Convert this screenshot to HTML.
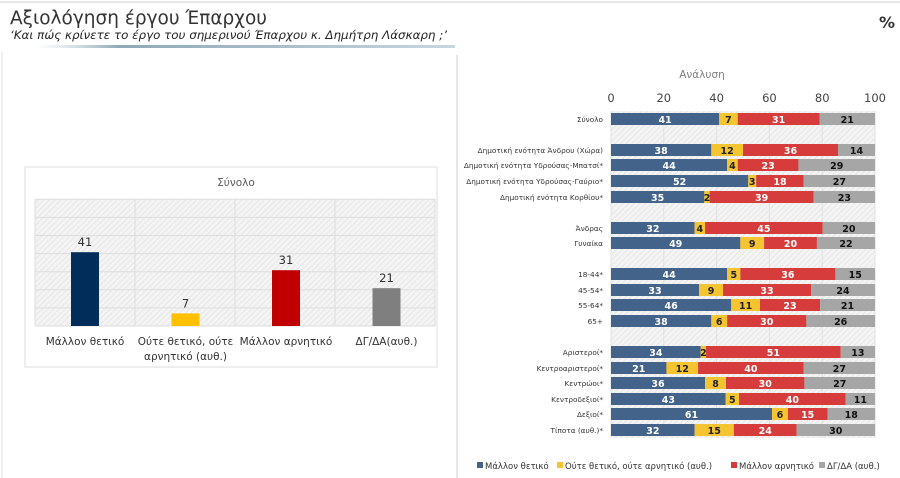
<!DOCTYPE html>
<html><head><meta charset="utf-8"><style>
body{margin:0;background:#fff;}
svg{display:block;font-family:"DejaVu Sans","Liberation Sans",sans-serif;}
</style></head><body>
<svg id="s" width="900" height="478" xmlns="http://www.w3.org/2000/svg">
<defs>
<pattern id="h" width="4" height="4" patternUnits="userSpaceOnUse" patternTransform="rotate(45)">
<rect width="4" height="4" fill="#f4f4f4"/><line x1="0" y1="0" x2="0" y2="4" stroke="#e2e2e2" stroke-width="1.5"/></pattern>
<linearGradient id="ln" x1="0" x2="1"><stop offset="0" stop-color="#b8ccd6" stop-opacity="0"/><stop offset="0.2" stop-color="#8fa9b8"/><stop offset="1" stop-color="#c8d6de"/></linearGradient>
</defs>
<rect x="0" y="0" width="900" height="478" fill="#fff"/>
<line x1="0" y1="2" x2="900" y2="2" stroke="#e6e6e6" stroke-width="2"/>
<text x="10" y="24" font-size="18.5" fill="#333">Αξιολόγηση έργου Έπαρχου</text>
<text x="10" y="39" font-size="11.5" font-style="italic" fill="#222" textLength="437" lengthAdjust="spacingAndGlyphs">‘Και πώς κρίνετε το έργο του σημερινού Έπαρχου κ. Δημήτρη Λάσκαρη ;’</text>
<text x="879" y="28" font-size="16" font-weight="bold" fill="#333">%</text>
<rect x="35" y="45" width="420" height="3" fill="url(#ln)"/>
<line x1="2" y1="52" x2="2" y2="478" stroke="#ddd"/>
<line x1="457" y1="55" x2="457" y2="478" stroke="#ccc"/>
<g id="L"></g>
<g id="R"></g>
</svg>
<script>
var NS="http://www.w3.org/2000/svg";
function el(p,t,a,txt){var e=document.createElementNS(NS,t);for(var k in a)e.setAttribute(k,a[k]);if(txt!==undefined)e.textContent=txt;p.appendChild(e);return e;}
var L=document.getElementById('L');
el(L,'rect',{x:25,y:167,width:412,height:200,fill:'#fff',stroke:'#ddd'});
el(L,'text',{x:236,y:186,'font-size':10.5,fill:'#595959','text-anchor':'middle'},'Σύνολο');
el(L,'rect',{x:35,y:199,width:400,height:127,fill:'url(#h)'});
for(var i=0;i<=7;i++){var y=326-i*18.1;el(L,'line',{x1:35,x2:435,y1:y,y2:y,stroke:'#ddd'});}
for(var i=0;i<=4;i++){var x=35+i*100;el(L,'line',{x1:x,x2:x,y1:199,y2:326,stroke:'#ddd'});}
var lv=[41,7,31,21],lc=['#002d5a','#ffc000','#c00000','#7f7f7f'];
for(var i=0;i<4;i++){var h=lv[i]*1.8,x=71+i*100.5;el(L,'rect',{x:x,y:326-h,width:28,height:h,fill:lc[i]});
el(L,'text',{x:x+14,y:326-h-6,'font-size':11.5,fill:'#333','text-anchor':'middle'},lv[i]);}
var lab=[['Μάλλον θετικό'],['Ούτε θετικό, ούτε','αρνητικό (αυθ.)'],['Μάλλον αρνητικό'],['ΔΓ/ΔΑ(αυθ.)']];
for(var i=0;i<4;i++)for(var j=0;j<lab[i].length;j++)el(L,'text',{x:85+i*100.5,y:345+j*15,'font-size':10.5,fill:'#333','text-anchor':'middle'},lab[i][j]);
var R=document.getElementById('R');
el(R,'text',{x:702,y:78,'font-size':10.5,fill:'#7f7f7f','text-anchor':'middle'},'Ανάλυση');
var x0=611,W=264;
el(R,'rect',{x:x0,y:111,width:W,height:327,fill:'url(#h)'});
for(var i=0;i<=5;i++){var x=x0+i*W/5;el(R,'line',{x1:x,x2:x,y1:111,y2:438,stroke:'#e0e0e0'});
el(R,'text',{x:x,y:102,'font-size':11.5,fill:'#444','text-anchor':'middle'},i*20);}
var rows=[['Σύνολο',119,[41,7,31,21]],
['Δημοτική ενότητα Άνδρου (Χώρα)',150,[38,12,36,14]],
['Δημοτική ενότητα Υδρούσας-Μπατσί*',165,[44,4,23,29]],
['Δημοτική ενότητα Υδρούσας-Γαύριο*',181,[52,3,18,27]],
['Δημοτική ενότητα Κορθίου*',197,[35,2,39,23]],
['Άνδρας',228,[32,4,45,20]],
['Γυναίκα',243,[49,9,20,22]],
['18-44*',274,[44,5,36,15]],
['45-54*',290,[33,9,33,24]],
['55-64*',305,[46,11,23,21]],
['65+',321,[38,6,30,26]],
['Αριστεροί*',352,[34,2,51,13]],
['Κεντροαριστεροί*',368,[21,12,40,27]],
['Κεντρώοι*',383,[36,8,30,27]],
['Κεντροδεξιοί*',399,[43,5,40,11]],
['Δεξιοί*',414,[61,6,15,18]],
['Τίποτα (αυθ.)*',430,[32,15,24,30]]];
var rc=['#44638a','#f5c431','#d63c3c','#a6a6a6'],tc=['#fff','#222','#fff','#111'];
rows.forEach(function(r){var y=r[1],v=r[2],s=v[0]+v[1]+v[2]+v[3],x=x0;
el(R,'text',{x:603,y:y+3,'font-size':7.3,fill:'#333','text-anchor':'end'},r[0]);
for(var k=0;k<4;k++){var w=v[k]/s*W;el(R,'rect',{x:x,y:y-6,width:w,height:12,fill:rc[k]});
el(R,'text',{x:x+w/2,y:y+4,'font-size':9.5,'font-weight':'bold',fill:tc[k],'text-anchor':'middle'},v[k]);x+=w;}});
var lg=[['Μάλλον θετικό',477],['Ούτε θετικό, ούτε αρνητικό (αυθ.)',557],['Μάλλον αρνητικό',731],['ΔΓ/ΔΑ (αυθ.)',819]];
lg.forEach(function(g,k){el(R,'rect',{x:g[1],y:462,width:6,height:6,fill:rc[k]});
el(R,'text',{x:g[1]+8,y:469,'font-size':8.5,fill:'#333'},g[0]);});
</script>
</body></html>
